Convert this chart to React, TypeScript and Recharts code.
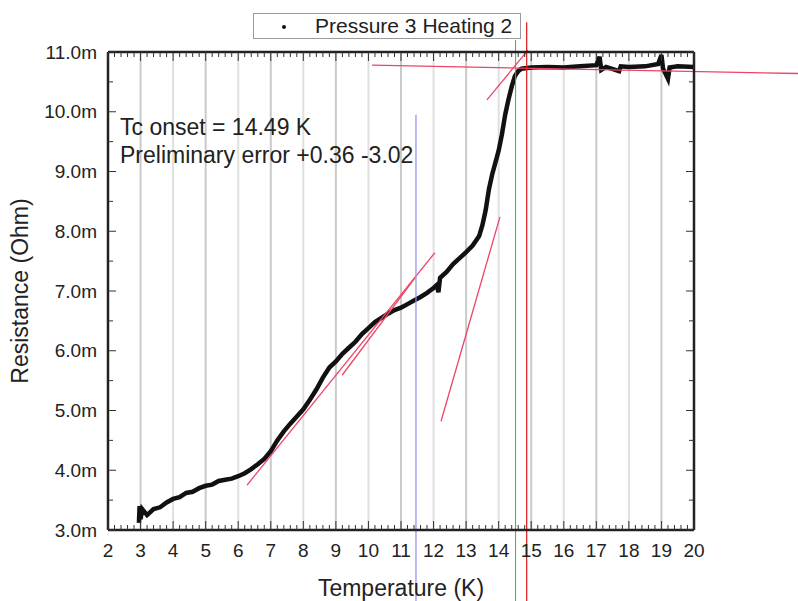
import { ComposedChart, Line, ReferenceLine, XAxis, YAxis } from 'recharts';

const temps = [
  2.95, 2.97, 3.0, 3.05, 3.2, 3.4, 3.6, 3.8, 4.0, 4.2, 4.4, 4.6, 4.8, 5.0, 5.2, 5.4, 5.6, 5.8, 6.0, 6.2,
  6.4, 6.6, 6.8, 7.0, 7.2, 7.4, 7.6, 7.8, 8.0, 8.2, 8.4, 8.6, 8.8, 9.0, 9.2, 9.4, 9.6, 9.8, 10.0, 10.2,
  10.4, 10.6, 10.8, 11.0, 11.2, 11.4, 11.6, 11.8, 12.0, 12.1, 12.15, 12.2, 12.4, 12.6, 12.8, 13.0, 13.2,
  13.4, 13.5, 13.6, 13.7, 13.8, 13.9, 14.0, 14.1, 14.2, 14.3, 14.4, 14.5, 14.6, 14.7, 15.0, 15.5, 16.0,
  16.5, 17.0, 17.1, 17.15, 17.3, 17.7, 17.75, 18.0, 18.5, 18.9, 19.0, 19.05, 19.2, 19.25, 19.5, 20.0,
];
const resistance = [
  3.12, 3.4, 3.18, 3.35, 3.25, 3.35, 3.38, 3.46, 3.52, 3.55, 3.62, 3.64, 3.7, 3.74, 3.76, 3.82, 3.84, 3.86, 3.9, 3.95,
  4.02, 4.1, 4.19, 4.32, 4.5, 4.65, 4.78, 4.9, 5.02, 5.18, 5.35, 5.55, 5.72, 5.82, 5.95, 6.05, 6.15, 6.28, 6.38, 6.48,
  6.55, 6.62, 6.68, 6.72, 6.78, 6.84, 6.9, 6.97, 7.05, 7.1, 6.98, 7.22, 7.32, 7.45, 7.55, 7.65, 7.76,
  7.92, 8.1, 8.35, 8.7, 8.95, 9.15, 9.35, 9.62, 9.95, 10.2, 10.42, 10.6, 10.68, 10.72, 10.74, 10.75, 10.74,
  10.76, 10.78, 10.92, 10.7, 10.75, 10.68, 10.76, 10.75, 10.76, 10.8, 10.95, 10.72, 10.55, 10.74, 10.76, 10.75,
];

const gridX = [3, 4, 5, 6, 7, 8, 9, 10, 11, 12, 13, 14, 15, 16, 17, 18, 19];

// fit lines drawn on the plot: [x1, y1, x2, y2]
const fitLines = [
  [10.11, 10.78, 23.2, 10.64],
  [13.64, 10.2, 14.9, 11.03],
  [12.23, 4.82, 14.04, 8.24],
  [6.27, 3.75, 12.04, 7.64],
  [9.19, 5.59, 11.43, 7.22],
];
const markerT = { blue: 11.46, green: 14.52, red: 14.86 };

const data = temps.map((t, i) => ({ t, r: resistance[i] }));
const xTicks = Array.from({ length: 91 }, (_, i) => 2 + i * 0.2);
const yTicks = Array.from({ length: 17 }, (_, i) => 3 + i * 0.5);
const isMajor = (v: number) => Math.abs(v - Math.round(v)) < 1e-6;

// plot box size, used to mirror the ticks onto the top and right frame
const plotW = 586;
const plotH = 478;

const font = '"Liberation Sans", Arial, sans-serif';
const axisLine = { stroke: '#222', strokeWidth: 2.5 };

function BottomTick({ x, y, payload }: any) {
  const major = isMajor(payload.value);
  const len = major ? 9 : 5;
  return (
    <g>
      <line x1={x} x2={x} y1={y} y2={y - len} stroke="#333" />
      <line x1={x} x2={x} y1={y - plotH} y2={y - plotH + len} stroke="#333" />
      {major && (
        <text x={x} y={y + 20} textAnchor="middle" dominantBaseline="central" fontSize={19} fontFamily={font} fill="#222">
          {Math.round(payload.value)}
        </text>
      )}
    </g>
  );
}

function LeftTick({ x, y, payload }: any) {
  const major = isMajor(payload.value);
  const len = major ? 8 : 5;
  return (
    <g>
      <line x1={x} x2={x + len} y1={y} y2={y} stroke="#333" />
      <line x1={x + plotW} x2={x + plotW - len} y1={y} y2={y} stroke="#333" />
      {major && (
        <text x={x - 11} y={y} textAnchor="end" dominantBaseline="central" fontSize={19} fontFamily={font} fill="#222">
          {`${payload.value.toFixed(1)}m`}
        </text>
      )}
    </g>
  );
}

export default function App() {
  return (
    <div style={{ position: 'absolute', left: 0, top: 0, width: 798, height: 601, fontFamily: font, color: '#222' }}>
      <ComposedChart width={798} height={601} data={data} margin={{ top: 51, right: 103, bottom: 0, left: 0 }}>
        {gridX.map((v) => (
          <ReferenceLine key={v} x={v} stroke={v % 2 ? '#cacaca' : '#e0e0e0'} strokeWidth={2} />
        ))}
        <XAxis dataKey="t" type="number" domain={[2, 20]} ticks={xTicks} interval={0} height={71}
          axisLine={axisLine} tickLine={false} tickSize={0} tickMargin={0} tick={BottomTick} />
        <XAxis xAxisId="top" orientation="top" type="number" domain={[2, 20]} height={1}
          axisLine={axisLine} tickLine={false} tick={false} />
        <YAxis type="number" domain={[3, 11]} ticks={yTicks} interval={0} width={108}
          axisLine={axisLine} tickLine={false} tickSize={0} tickMargin={0} tick={LeftTick} />
        <YAxis yAxisId="right" orientation="right" type="number" domain={[3, 11]} width={1}
          axisLine={axisLine} tickLine={false} tick={false} />
        <Line dataKey="r" type="linear" stroke="#111" strokeWidth={4.5} dot={false} isAnimationActive={false} />
        {fitLines.map(([x1, y1, x2, y2], i) => (
          <ReferenceLine key={`fit${i}`} segment={[{ x: x1, y: y1 }, { x: x2, y: y2 }]}
            stroke="#ee4466" strokeWidth={1.3} ifOverflow="visible" />
        ))}
        <ReferenceLine segment={[{ x: markerT.blue, y: 1.7 }, { x: markerT.blue, y: 9.95 }]} stroke="#8c8cf2" strokeWidth={1.2} ifOverflow="visible" />
        <ReferenceLine segment={[{ x: markerT.green, y: 1.7 }, { x: markerT.green, y: 11.2 }]} stroke="#4aa84a" strokeWidth={1} ifOverflow="visible" />
        <ReferenceLine segment={[{ x: markerT.red, y: 1.8 }, { x: markerT.red, y: 11.5 }]} stroke="#e02828" strokeWidth={1.3} ifOverflow="visible" />
      </ComposedChart>

      <div style={{ position: 'absolute', left: 253, top: 13, width: 268, height: 26, border: '1px solid #9a9a9a', boxSizing: 'border-box' }}>
        <div style={{ position: 'absolute', left: 28, top: 11, width: 4, height: 4, borderRadius: 2, background: '#111' }} />
        <div style={{ position: 'absolute', left: 61, top: 0, fontSize: 21, lineHeight: '24px', whiteSpace: 'nowrap' }}>Pressure 3 Heating 2</div>
      </div>

      <div style={{ position: 'absolute', left: 120, top: 113, fontSize: 23, lineHeight: '28px', whiteSpace: 'nowrap' }}>
        <div>Tc onset = 14.49 K</div>
        <div>Preliminary error +0.36 -3.02</div>
      </div>

      <div style={{ position: 'absolute', left: 20, top: 291, transform: 'translate(-50%, -50%) rotate(-90deg)', fontSize: 23, whiteSpace: 'nowrap' }}>
        Resistance (Ohm)
      </div>
      <div style={{ position: 'absolute', left: 401, top: 588, transform: 'translate(-50%, -50%)', fontSize: 23, whiteSpace: 'nowrap' }}>
        Temperature (K)
      </div>
    </div>
  );
}
